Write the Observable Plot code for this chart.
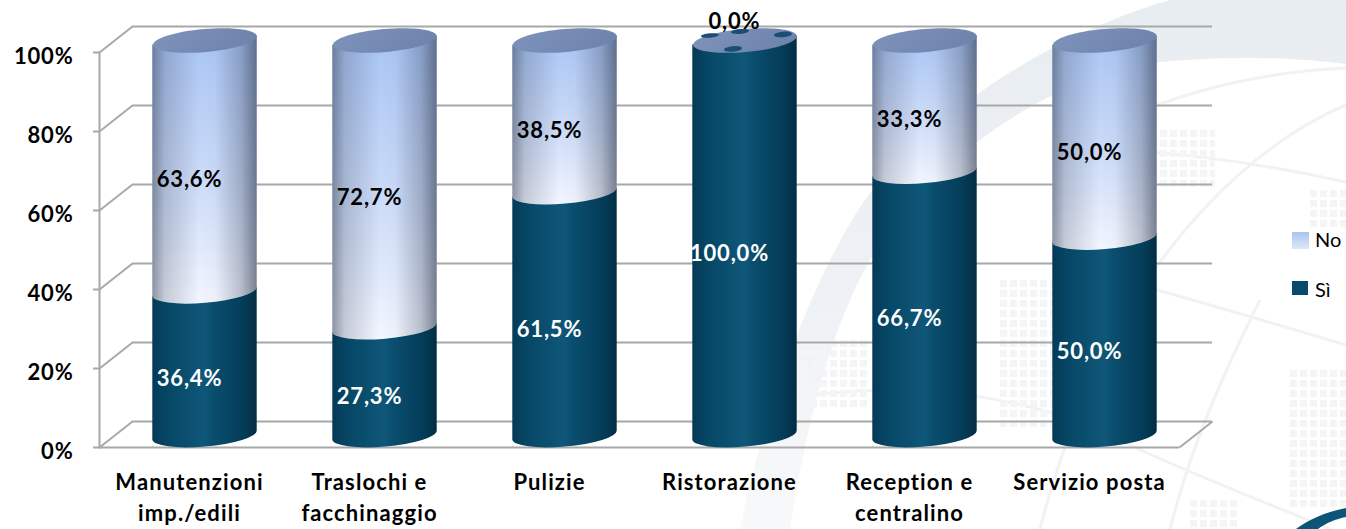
<!DOCTYPE html>
<html lang="it">
<head>
<meta charset="utf-8">
<title>Servizi: Sì / No</title>
<script src="https://cdn.jsdelivr.net/npm/d3@7"></script>
<script src="https://cdn.jsdelivr.net/npm/@observablehq/plot@0.6"></script>
<style>
  html, body { margin: 0; padding: 0; background: #fff; width: 1346px; height: 529px; overflow: hidden; }
  #sfondo, #paint { position: absolute; left: 0; top: 0; }
  #grafico { position: absolute; left: 0; top: 0; }
  .voce { position: absolute; font: 400 20px Lato, sans-serif; color: #000; line-height: 24px; }
  .campione { position: absolute; }
  [aria-label="x-axis tick label"] { letter-spacing: 1.1px; }
</style>
</head>
<body>
<!-- Decorative globe watermark behind the chart -->
<svg id="sfondo" width="1346" height="529" viewBox="0 0 1346 529">
  <defs>
    <pattern id="griglia" width="10" height="10" patternUnits="userSpaceOnUse">
      <rect width="7" height="7" fill="#f4f5f6"/>
    </pattern>
    <linearGradient id="fascia" x1="0" x2="0" y1="0" y2="1">
      <stop offset="0" stop-color="#e8edf2"/>
      <stop offset="0.55" stop-color="#eef1f5"/>
      <stop offset="1" stop-color="#f8f9fa"/>
    </linearGradient>
  </defs>
  <path d="M1346 0 L1170 0 C1080 25 960 90 880 180 C830 240 770 380 740 529 L790 529 C805 430 830 330 870 260 C900 205 940 170 980 140 C1040 95 1100 70 1160 62 C1230 55 1300 58 1346 64 Z" fill="url(#fascia)"/>
  <g fill="none" stroke="#f1f2f4" stroke-width="3">
    <path d="M1127 117 C1190 90 1260 72 1346 68"/>
    <path d="M1346 105 C1240 150 1160 250 1110 340 C1080 400 1055 470 1040 529"/>
    <path d="M1100 150 C1170 150 1270 165 1346 182"/>
    <path d="M1140 285 C1210 305 1280 325 1346 345"/>
    <path d="M780 400 C860 385 1000 380 1120 440 C1180 470 1260 500 1330 529"/>
    <path d="M1260 300 C1220 380 1190 450 1170 529"/>
  </g>
  <g fill="url(#griglia)">
    <rect x="1155" y="130" width="60" height="60"/>
    <rect x="1000" y="280" width="70" height="150"/>
    <rect x="800" y="340" width="70" height="70"/>
    <rect x="1310" y="190" width="36" height="40"/>
    <rect x="1290" y="370" width="56" height="140"/>
    <rect x="1190" y="500" width="50" height="29"/>
  </g>
  <path d="M1346 508 C1325 512 1308 520 1296 529 L1318 529 C1326 523 1336 519 1346 517 Z" fill="#0c5478"/>
</svg>

<!-- Gradients used as bar and cap fills -->
<svg id="paint" width="0" height="0">
  <defs>
    <linearGradient id="siH" x1="0" x2="1" y1="0" y2="0">
      <stop offset="0" stop-color="#053a56"/>
      <stop offset="0.15" stop-color="#064766"/>
      <stop offset="0.5" stop-color="#0f5779"/>
      <stop offset="0.58" stop-color="#0a4e6f"/>
      <stop offset="0.88" stop-color="#043c58"/>
      <stop offset="1" stop-color="#032c42"/>
    </linearGradient>
    <linearGradient id="noV" x1="0" x2="0" y1="0" y2="1">
      <stop offset="0" stop-color="#a9c5f5"/>
      <stop offset="0.55" stop-color="#cddcf8"/>
      <stop offset="1" stop-color="#f2f6ff"/>
    </linearGradient>
    <linearGradient id="ombra" x1="0" x2="1" y1="0" y2="0">
      <stop offset="0" stop-color="#2a3348" stop-opacity="0.5"/>
      <stop offset="0.12" stop-color="#2a3348" stop-opacity="0.22"/>
      <stop offset="0.45" stop-color="#2a3348" stop-opacity="0"/>
      <stop offset="0.6" stop-color="#2a3348" stop-opacity="0.02"/>
      <stop offset="0.85" stop-color="#2a3348" stop-opacity="0.28"/>
      <stop offset="1" stop-color="#2a3348" stop-opacity="0.6"/>
    </linearGradient>
    <linearGradient id="cappello" x1="0" x2="1" y1="0" y2="0.3">
      <stop offset="0" stop-color="#7f94bd"/>
      <stop offset="1" stop-color="#6f84ad"/>
    </linearGradient>
  </defs>
</svg>

<div id="grafico"></div>
<div class="campione" style="left:1292px;top:232px;width:17px;height:17px;background:linear-gradient(#a9c3f0,#dfe7f7)"></div>
<div class="voce" style="left:1315px;top:227px">No</div>
<div class="campione" style="left:1292px;top:281px;width:16px;height:14px;background:#0a4a6e"></div>
<div class="voce" style="left:1315px;top:277px">Sì</div>

<script>
// Survey answers per service, in percent
const categorie = [
  "Manutenzioni\nimp./edili",
  "Traslochi e\nfacchinaggio",
  "Pulizie",
  "Ristorazione",
  "Reception e\ncentralino",
  "Servizio posta"
];
const valoriSi = [36.4, 27.3, 61.5, 100, 66.7, 50];
const valoriNo = [63.6, 72.7, 38.5, 0, 33.3, 50];
const tacche = [0, 20, 40, 60, 80, 100];

const formato = (v) => v.toFixed(1).replace(".", ",") + "%";

const righeSi = categorie.map((c, i) => ({categoria: c, y1: 0, y2: valoriSi[i], valore: valoriSi[i]}));
const righeNo = categorie.map((c, i) => ({categoria: c, y1: valoriSi[i], y2: valoriSi[i] + valoriNo[i], valore: valoriNo[i]}));

// Chart depth: columns stand halfway into the floor, gridlines on the back wall
const profX = 33, profY = -26;
const colX = 15.5, colY = -12;
const grigio = "#a8a8a8";

// The round ends of the columns are tilted ellipses
const rx = 52, ry = 11.5, gradi = -5;
const sbieco = -rx * Math.sin(gradi * Math.PI / 180);

function ellisse(ax, ay, cx = 0, cy = 0) {
  const a = gradi * Math.PI / 180, c = Math.cos(a), s = Math.sin(a), k = 0.5523;
  const p = (x, y) => [cx + x * c - y * s, cy + x * s + y * c];
  return (ctx) => {
    ctx.moveTo(...p(ax, 0));
    ctx.bezierCurveTo(...p(ax, k * ay), ...p(k * ax, ay), ...p(0, ay));
    ctx.bezierCurveTo(...p(-k * ax, ay), ...p(-ax, k * ay), ...p(-ax, 0));
    ctx.bezierCurveTo(...p(-ax, -k * ay), ...p(-k * ax, -ay), ...p(0, -ay));
    ctx.bezierCurveTo(...p(k * ax, -ay), ...p(ax, -k * ay), ...p(ax, 0));
    ctx.closePath();
  };
}
const base = {draw: ellisse(rx, ry)};

// Diagonal edge of the side wall and of the floor
const diagonale = {draw(ctx) { ctx.moveTo(0, 0); ctx.lineTo(profX, profY); }};

// Dark flecks showing through the empty top of a full column
const macchie = {
  draw(ctx) {
    for (const [x, y, ax, ay] of [[-5, -9, 9, 2.4], [-35, -5, 9, 2.2], [38, -6, 9, 2.8], [-12, 8.5, 9, 2.8]]) {
      ellisse(ax, ay, x, y)(ctx);
    }
  }
};

// Turns the rectangles of a segment into a column body with a rounded lower end
function cilindro(index, scales, values, dimensions, context, next) {
  const g = next(index, scales, values, dimensions, context);
  for (const rect of [...g.querySelectorAll("rect")]) {
    const x = +rect.getAttribute("x"), y = +rect.getAttribute("y");
    const w = +rect.getAttribute("width"), h = +rect.getAttribute("height");
    const path = document.createElementNS("http://www.w3.org/2000/svg", "path");
    for (const {name, value} of rect.attributes) {
      if (!["x", "y", "width", "height"].includes(name)) path.setAttribute(name, value);
    }
    path.setAttribute("d",
      `M${x},${y + sbieco}L${x},${y + h + sbieco}` +
      `A${rx},${ry} ${gradi} 0 0 ${x + w},${y + h - sbieco}` +
      `L${x + w},${y - sbieco}Z`);
    rect.replaceWith(path);
  }
  return g;
}

const comune = {x: "categoria", dx: colX, dy: colY, render: cilindro};
const testo = {
  x: "categoria",
  y: (d) => (d.y1 + d.y2) / 2,
  text: (d) => formato(d.valore),
  fontWeight: 700,
  fontSize: 22,
  dy: 2
};
const punto = {x: "categoria", dx: colX, dy: colY, stroke: "none"};
const conNo = righeNo.filter((d) => d.valore > 0);
const senzaNo = righeNo.filter((d) => d.valore === 0);

const grafico = Plot.plot({
  width: 1346,
  height: 529,
  marginLeft: 99,
  marginRight: 167,
  marginTop: 52,
  marginBottom: 82,
  style: {background: "transparent", fontFamily: "Lato, sans-serif", overflow: "visible", letterSpacing: "0.8px"},
  x: {domain: categorie, paddingInner: 0.42, paddingOuter: 0.21, round: false, axis: null},
  y: {domain: [0, 100], axis: null},
  marks: [
    // Walls and floor
    Plot.ruleY(tacche, {dx: profX, dy: profY, stroke: grigio, strokeWidth: 2}),
    Plot.ruleY([0], {stroke: grigio, strokeWidth: 2}),
    Plot.dot(tacche, {y: (d) => d, frameAnchor: "left", symbol: diagonale, stroke: grigio, strokeWidth: 2, fill: "none"}),
    Plot.dot([0], {y: (d) => d, frameAnchor: "right", symbol: diagonale, stroke: grigio, strokeWidth: 2, fill: "none"}),
    Plot.frame({anchor: "left", stroke: grigio, strokeWidth: 2}),
    Plot.axisY({ticks: tacche, tickSize: 6, tickFormat: () => "", stroke: grigio, strokeWidth: 2, label: null}),
    Plot.axisY({
      ticks: tacche, tickSize: 0, tickPadding: 26, dy: 4, label: null,
      tickFormat: (d) => d + "%", fontSize: 22, fontWeight: 700, fill: "#000"
    }),
    Plot.axisX({
      tickSize: 0, tickPadding: 21, lineHeight: 1.4, label: null,
      tickFormat: (d) => d, fontSize: 22, fontWeight: 700, fill: "#000"
    }),

    // Sì segments
    Plot.rectY(righeSi, {...comune, y1: "y1", y2: "y2", fill: "url(#siH)"}),

    // No segments, vertical tint with a horizontal shading above it
    Plot.rectY(conNo, {...comune, y1: "y1", y2: "y2", fill: "url(#noV)"}),
    Plot.rectY(conNo, {...comune, y1: "y1", y2: "y2", fill: "url(#ombra)"}),

    // Column tops
    Plot.dot(righeNo, {...punto, y: "y2", symbol: base, fill: "url(#cappello)"}),
    Plot.dot(senzaNo, {...punto, y: "y2", symbol: macchie, fill: "#1d4d74"}),

    // Value labels
    Plot.text(righeSi, {...testo, fill: "#fff", dy: 3.5}),
    Plot.text(conNo, {...testo, fill: "#000"}),
    Plot.text(senzaNo, {...testo, fill: "#000", dx: 5, dy: -31})
  ]
});
document.getElementById("grafico").append(grafico);
</script>
</body>
</html>
